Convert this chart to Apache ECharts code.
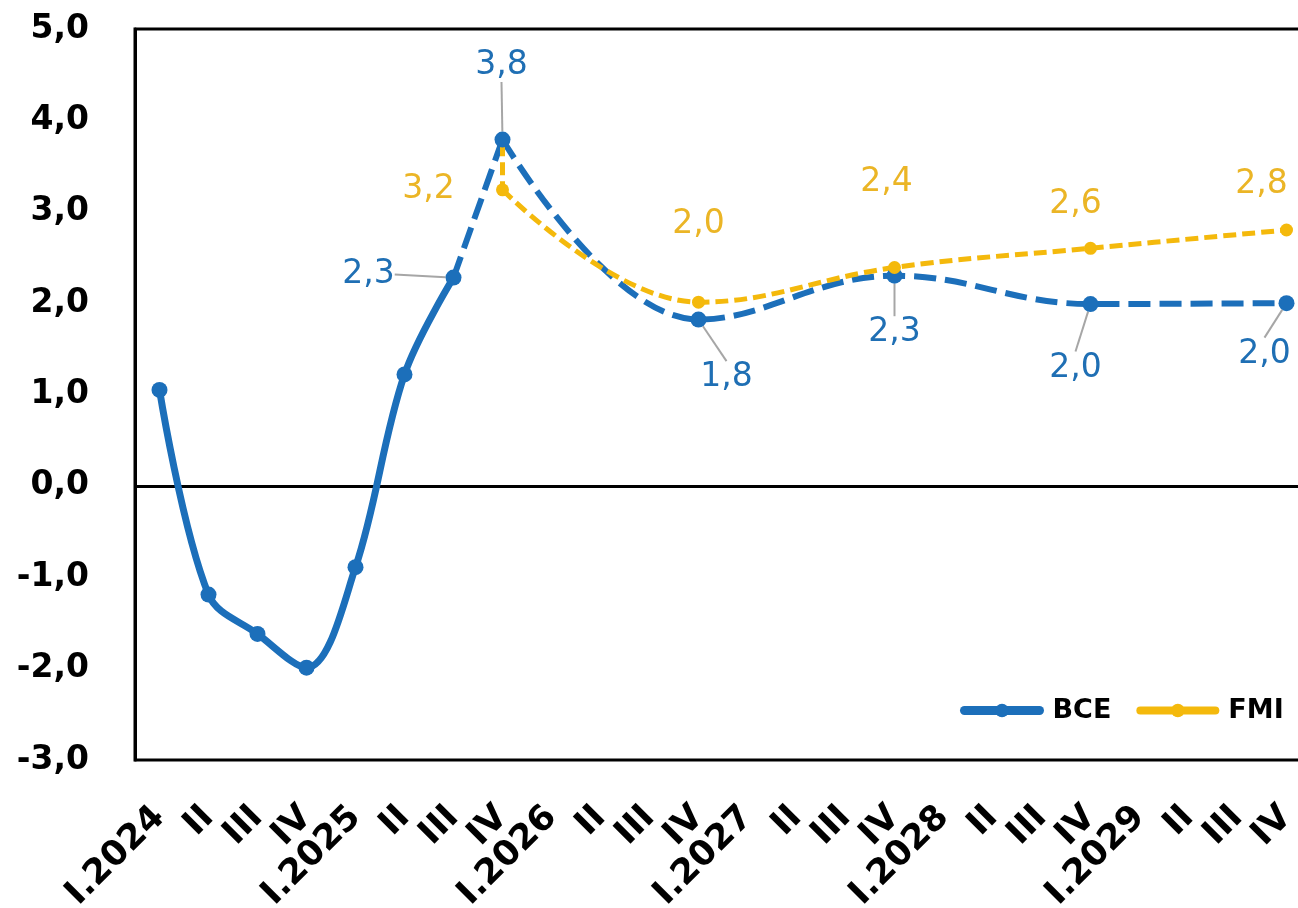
<!DOCTYPE html>
<html><head><meta charset="utf-8">
<script src="https://cdn.jsdelivr.net/npm/echarts@6/dist/echarts.min.js"></script>
<style>html,body{margin:0;padding:0;background:#fff;overflow:hidden;width:1298px;height:908px}#c{width:1320px;height:908px}</style>
</head><body><div id="c"></div>
<script>
// ---- data ----
const categories = ['I.2024','II','III','IV','I.2025','II','III','IV','I.2026','II','III','IV',
  'I.2027','II','III','IV','I.2028','II','III','IV','I.2029','II','III','IV'];
const bceActual = [1.05,-1.19,-1.62,-1.99,-0.89,1.22,2.28,null,null,null,null,null,
  null,null,null,null,null,null,null,null,null,null,null,null];
// bridge from the last actual quarter to the first projected point
const bceBridge = [null,null,null,null,null,null,2.28,3.79,null,null,null,null,
  null,null,null,null,null,null,null,null,null,null,null,null];
const bceProjection = [null,null,null,null,null,null,null,3.79,null,null,null,1.82,
  null,null,null,2.30,null,null,null,1.99,null,null,null,2.00];
const fmiProjection = [null,null,null,null,null,null,null,3.24,null,null,null,2.01,
  null,null,null,2.39,null,null,null,2.60,null,null,null,2.80];
const fmiLinkIndex = 7;           // IV.2025
const fmiLinkValues = [3.75, 3.24];
const yMin = -3, yMax = 5, yStep = 1;

// ---- label placement (style only) : index -> [dx, dy, leaderLine] ----
const bceActualLabels = {6: [-85, -3, true]};
const bceProjLabels = {7: [-1, -74, true], 11: [28, 58, true], 15: [0, 57, true], 19: [-15, 64, true], 23: [-22, 51, true]};
const fmiLabels = {7: [-74, 0, false], 11: [0, -78, false], 15: [-8, -85, false], 19: [-15, -44, false], 23: [-25, -46, false]};

const FONT = 'DejaVu Sans';
const BLUE = '#1C6FBA', BLUE_TXT = '#1F6FB4';
const GOLD = '#F4B90C', GOLD_TXT = '#EBB526';
const fmt = v => v.toFixed(1).replace('.', ',');

function buildData(values, labels, color) {
  return values.map((v, i) => {
    const cfg = labels[i];
    if (v === null) return null;
    return {
      value: v,
      label: cfg ? {show: true, position: 'inside',
        formatter: p => fmt(p.value), color: color, fontSize: 33, fontFamily: FONT} : {show: false},
      labelLine: {show: !!(cfg && cfg[2]), lineStyle: {color: '#A6A6A6', width: 2}}
    };
  });
}
function layoutFor(labels) {
  return params => {
    const cfg = labels[params.dataIndex];
    return cfg ? {dx: cfg[0], dy: cfg[1]} : {};
  };
}

const chart = echarts.init(document.getElementById('c'), null, {renderer: 'canvas'});
chart.setOption({
  animation: false,
  backgroundColor: '#fff',
  grid: {left: 135, top: 29, right: 9, height: 731, outerBoundsMode: 'none', containLabel: false,
    show: true, borderColor: '#000', borderWidth: 3, backgroundColor: 'transparent'},
  legend: {
    data: [
      {name: 'BCE', lineStyle: {width: 9, type: 'solid', cap: 'round'}},
      {name: 'FMI', lineStyle: {width: 8, type: 'solid', cap: 'round'}}
    ],
    orient: 'horizontal', left: 955, top: 692, width: 360, itemWidth: 75, itemHeight: 17, itemGap: 25,
    textStyle: {fontSize: 27, fontWeight: 'bold', color: '#000', fontFamily: FONT, padding: [0, 0, 0, 8]}
  },
  xAxis: {
    type: 'category', data: categories, boundaryGap: true,
    axisLine: {show: false}, axisTick: {show: false}, splitLine: {show: false},
    axisLabel: {interval: 0, rotate: 45, margin: 52, verticalAlign: 'middle', color: '#000',
      fontSize: 35, fontWeight: 'bold', fontFamily: FONT}
  },
  yAxis: {
    type: 'value', min: yMin, max: yMax, interval: yStep,
    axisLine: {show: true, lineStyle: {color: '#000', width: 3}}, axisTick: {show: false}, splitLine: {show: false},
    axisLabel: {formatter: v => fmt(v), margin: 46, color: '#000', fontSize: 33, fontWeight: 'bold', fontFamily: FONT}
  },
  series: [
    {
      name: 'BCE', type: 'line', smooth: 0.35, data: buildData(bceActual, bceActualLabels, BLUE_TXT),
      labelLayout: layoutFor(bceActualLabels),
      symbol: 'circle', symbolSize: 16, showAllSymbol: true,
      lineStyle: {color: BLUE, width: 7}, itemStyle: {color: BLUE},
      markLine: {silent: true, symbol: 'none', z: 1, label: {show: false},
        lineStyle: {color: '#000', width: 3, type: 'solid'}, data: [{yAxis: 0}]}
    },
    {
      name: 'BCE', type: 'line', connectNulls: true, data: bceBridge,
      symbol: 'none', lineStyle: {color: BLUE, width: 6, type: [22, 9]}
    },
    {
      name: 'BCE', type: 'line', smooth: 0.4, connectNulls: true, data: buildData(bceProjection, bceProjLabels, BLUE_TXT),
      labelLayout: layoutFor(bceProjLabels),
      symbol: 'circle', symbolSize: 16, showAllSymbol: true,
      lineStyle: {color: BLUE, width: 6, type: [22, 9]}, itemStyle: {color: BLUE}
    },
    {
      name: 'FMI', type: 'line', smooth: 0.4, connectNulls: true, data: buildData(fmiProjection, fmiLabels, GOLD_TXT),
      labelLayout: layoutFor(fmiLabels),
      symbol: 'circle', symbolSize: 13, showAllSymbol: true,
      lineStyle: {color: GOLD, width: 5, type: [13, 6]}, itemStyle: {color: GOLD}
    },
    {
      name: 'FMI link', type: 'line', data: fmiLinkValues.map(v => [fmiLinkIndex, v]),
      symbol: 'none', lineStyle: {color: GOLD, width: 5, type: [13, 6]}
    }
  ]
});
</script>
</body></html>
